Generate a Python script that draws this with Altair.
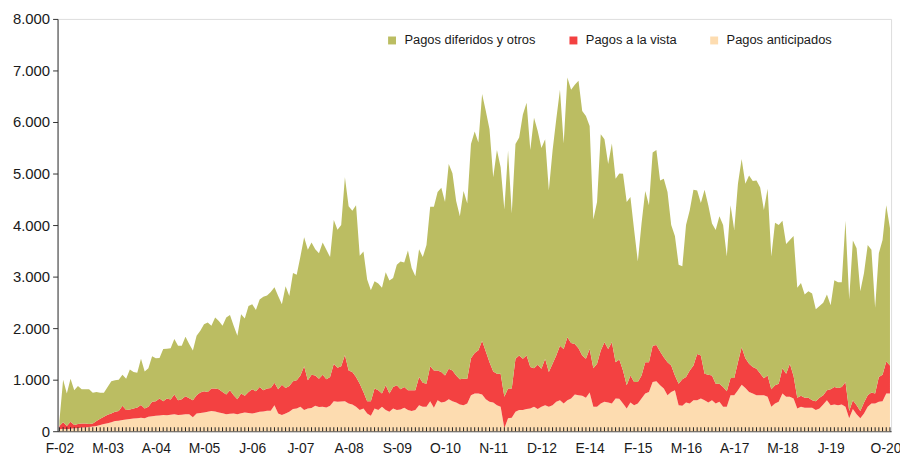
import altair as alt
import pandas as pd

# x-axis tick labels (every 13 months from Feb-2002) and final label
tick_labels = ["F-02", "M-03", "A-04", "M-05", "J-06", "J-07", "A-08", "S-09", "O-10",
               "N-11", "D-12", "E-14", "F-15", "M-16", "A-17", "M-18", "J-19"]
last_label = "O-20"

series_names = ["Pagos diferidos y otros", "Pagos a la vista", "Pagos anticipados"]
colors = ["#BBBD62", "#F34141", "#FDDCB0"]

# monthly values, Feb-2002 .. Oct-2020
anticipados = [
    40, 50, 40, 50, 60, 60, 70, 70, 80, 90,
    100, 122, 140, 154, 175, 199, 205, 218, 225, 237,
    245, 250, 263, 250, 282, 290, 301, 305, 314, 310,
    320, 327, 314, 320, 327, 330, 270, 346, 355, 365,
    378, 391, 385, 365, 350, 327, 340, 346, 327, 350,
    365, 355, 346, 360, 378, 385, 397, 397, 506, 346,
    314, 346, 380, 429, 440, 474, 410, 442, 450, 494,
    470, 474, 460, 494, 583, 570, 575, 583, 538, 519,
    474, 410, 442, 346, 301, 442, 410, 474, 410, 378,
    442, 410, 423, 455, 410, 391, 410, 506, 474, 474,
    583, 455, 603, 558, 570, 622, 583, 558, 519, 506,
    538, 699, 731, 731, 712, 622, 570, 558, 506, 474,
    60, 250, 263, 378, 410, 410, 429, 442, 474, 429,
    474, 506, 474, 506, 570, 603, 538, 603, 635, 712,
    699, 686, 647, 750, 474, 474, 538, 570, 558, 538,
    635, 630, 538, 442, 558, 506, 538, 635, 731, 763,
    955, 968, 891, 827, 699, 763, 795, 506, 494, 558,
    538, 603, 603, 635, 603, 558, 603, 538, 570, 474,
    474, 699, 699, 795, 904, 840, 763, 731, 699, 699,
    699, 667, 474, 538, 570, 731, 667, 667, 635, 442,
    474, 455, 455, 455, 410, 442, 519, 603, 506, 519,
    506, 519, 474, 250, 429, 327, 250, 346, 474, 538,
    538, 570, 583, 731, 731,
]

vista = [
    60, 123, 60, 136, 60, 80, 80, 80, 60, 60,
    100, 118, 142, 166, 171, 179, 186, 276, 185, 183,
    197, 210, 247, 192, 192, 280, 282, 330, 269, 325,
    295, 385, 289, 300, 352, 310, 333, 353, 395, 411,
    385, 436, 442, 449, 413, 385, 455, 353, 295, 381,
    321, 408, 468, 416, 481, 410, 430, 443, 436, 468,
    590, 494, 498, 539, 547, 609, 853, 545, 646, 589,
    549, 622, 546, 557, 725, 660, 688, 898, 641, 628,
    577, 513, 321, 237, 282, 385, 385, 257, 481, 353,
    417, 481, 391, 404, 385, 404, 385, 545, 468, 449,
    680, 724, 576, 589, 513, 590, 596, 525, 487, 513,
    481, 718, 788, 839, 1044, 923, 770, 602, 609, 641,
    607, 577, 564, 1026, 1058, 994, 1039, 802, 750, 859,
    738, 898, 673, 802, 898, 1057, 1058, 1218, 1077, 980,
    910, 782, 757, 846, 750, 834, 1026, 1154, 1038, 1186,
    705, 760, 642, 449, 525, 449, 417, 448, 609, 577,
    705, 705, 654, 609, 641, 513, 288, 417, 512, 493,
    642, 673, 897, 833, 512, 538, 480, 385, 353, 385,
    302, 333, 333, 545, 724, 577, 545, 513, 513, 421,
    331, 416, 340, 353, 353, 493, 448, 641, 435, 205,
    212, 192, 192, 148, 173, 205, 180, 192, 308, 340,
    334, 340, 481, 141, 174, 179, 141, 212, 225, 212,
    193, 481, 513, 622, 545,
]

diferidos = [
    100, 827, 631, 833, 675, 738, 664, 664, 674, 594,
    560, 504, 462, 539, 622, 609, 609, 602, 609, 779,
    705, 675, 894, 718, 750, 885, 834, 785, 1013, 965,
    994, 1076, 1057, 1040, 1154, 1052, 961, 1154, 1199, 1301,
    1346, 1218, 1378, 1327, 1282, 1493, 1461, 1346, 1231, 1538,
    1500, 1666, 1648, 1577, 1699, 1814, 1808, 1859, 1853, 1808,
    1558, 1974, 1744, 2103, 2051, 2308, 2500, 2532, 2564, 2449,
    2436, 2564, 2513, 2327, 2788, 2680, 2737, 3448, 3186, 3129,
    3334, 2481, 2724, 2359, 2154, 2083, 2070, 2051, 2192, 2192,
    2115, 2340, 2481, 2417, 2711, 2372, 2211, 2481, 2436, 2692,
    3090, 3174, 3462, 3577, 3366, 3974, 3827, 3385, 3167, 3641,
    3398, 4154, 4295, 4033, 4789, 4667, 4519, 3769, 4340, 4007,
    3634, 4615, 3397, 4167, 4231, 4743, 4904, 4211, 4859, 4539,
    4282, 4263, 3526, 4134, 4583, 4968, 3987, 5044, 4916, 5032,
    5192, 4744, 4711, 4327, 2885, 3141, 4199, 3943, 3590, 3859,
    3557, 3610, 3814, 3558, 3462, 2949, 2340, 2949, 3320, 3045,
    3750, 3782, 3320, 3461, 3301, 2724, 2705, 2308, 2193, 2949,
    3108, 3410, 3173, 2961, 3571, 3289, 2949, 2981, 3250, 3141,
    2615, 3353, 2872, 3461, 3654, 3384, 3654, 3609, 3653, 3610,
    3260, 3622, 2577, 3154, 3077, 2859, 2520, 2404, 2718, 2135,
    2192, 2007, 2071, 2070, 1782, 1782, 1795, 1859, 1628, 2070,
    2051, 2032, 3128, 2167, 3096, 3045, 2327, 2513, 2916, 2769,
    1666, 2404, 2616, 3032, 2660,
]

n = len(diferidos)
rows = []
for i in range(n):
    rows.append({"i": i, "serie": series_names[2], "ord": 0, "v": anticipados[i]})
    rows.append({"i": i, "serie": series_names[1], "ord": 1, "v": vista[i]})
    rows.append({"i": i, "serie": series_names[0], "ord": 2, "v": diferidos[i]})
df = pd.DataFrame(rows)
ticks_df = pd.DataFrame({"i": list(range(n))})

W, H = 841, 416
FONT = "Liberation Sans, Arial, sans-serif"
TXT = "#1a1a1a"

labels_js = "[" + ",".join(f"'{l}'" for l in tick_labels) + "]"
last_pos = n - 2.2  # label of the last month, nudged left so it stays inside the page
x_label_expr = f"datum.value > {13 * (len(tick_labels) - 1) + 6} ? '{last_label}' : {labels_js}[round(datum.value / 13)]"

x_scale = alt.Scale(domain=[-0.5, n - 0.7], nice=False, zero=False)
x_axis = alt.Axis(values=[13 * k for k in range(len(tick_labels))] + [last_pos],
                  labelExpr=x_label_expr, tickSize=0, grid=False, title=None,
                  domainColor="#333333", labelFont=FONT, labelFontSize=14,
                  labelColor=TXT, labelPadding=10, labelOverlap=False,
                  labelFlush=False)

areas = alt.Chart(df).mark_area(interpolate="linear").encode(
    x=alt.X("i:Q", scale=x_scale, axis=x_axis),
    y=alt.Y("v:Q", stack="zero",
            scale=alt.Scale(domain=[0, 8000], nice=False),
            axis=alt.Axis(values=list(range(0, 8001, 1000)),
                          labelExpr="replace(format(datum.value, ','), ',', '.')",
                          grid=False, title=None, tickSize=5, tickColor="#333333",
                          domainColor="#333333", labelFont=FONT, labelFontSize=15,
                          labelColor=TXT, labelPadding=3)),
    color=alt.Color("serie:N",
                    scale=alt.Scale(domain=series_names, range=colors),
                    legend=alt.Legend(title=None, orient="none", legendX=331, legendY=15,
                                      direction="horizontal", symbolType="square",
                                      symbolSize=64, symbolStrokeWidth=0,
                                      labelFont=FONT, labelFontSize=13, labelColor=TXT,
                                      labelLimit=300, columnPadding=31, labelOffset=6)),
    order=alt.Order("ord:Q"),
)

ticks = alt.Chart(ticks_df).mark_rule(color="#222222", strokeWidth=1).encode(
    x=alt.X("i:Q", scale=x_scale, axis=x_axis),
    y=alt.value(H - 4),
    y2=alt.value(H),
)

chart = alt.layer(areas, ticks).properties(
    width=W, height=H,
    autosize=alt.AutoSizeParams(type="none"),
    padding={"left": 50, "top": 9, "right": 9, "bottom": 24},
).configure_view(stroke=None).configure(background="white")

chart.save("out.html", embed_options={"renderer": "svg", "actions": False})
